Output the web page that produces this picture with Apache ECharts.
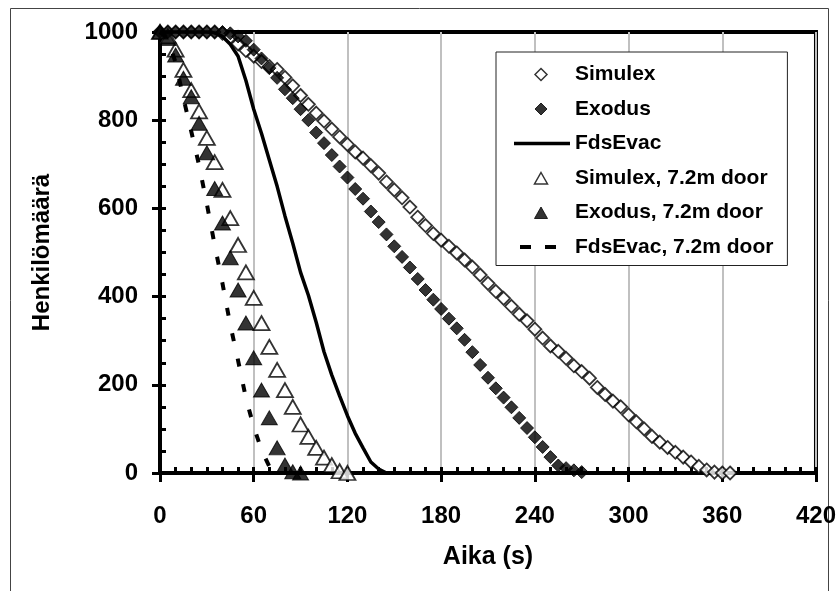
<!DOCTYPE html>
<html>
<head>
<meta charset="utf-8">
<script src="https://cdn.jsdelivr.net/npm/echarts@6/dist/echarts.min.js"></script>
<style>
html,body{margin:0;padding:0;background:#fff;}
#chart{width:839px;height:591px;}
</style>
</head>
<body>
<div id="chart"></div>
<script>
// ---- data ----
const xTicks = [0, 60, 120, 180, 240, 300, 360, 420];
const yTicks = [0, 200, 400, 600, 800, 1000];

const simulexT = [0,5,10,15,20,25,30,35,40,45,50,55,60,65,70,75,80,85,90,95,100,105,110,115,120,125,130,135,140,145,150,155,160,165,170,175,180,185,190,195,200,205,210,215,220,225,230,235,240,245,250,255,260,265,270,275,280,285,290,295,300,305,310,315,320,325,330,335,340,345,350,355,360,365];
const simulexN = [1000,1000,1000,1000,1000,1000,1000,1000,997,988,973,958,945,933,922,915,897,878,856,836,816,798,780,762,745,728,714,697,680,660,642,624,603,580,561,543,528,514,499,483,467,449,430,412,396,378,360,345,326,306,288,276,260,243,230,215,194,178,163,150,132,116,100,83,70,58,47,36,25,15,7,2,0,0];

const exodusT = [0,5,10,15,20,25,30,35,40,45,50,55,60,65,70,75,80,85,90,95,100,105,110,115,120,125,130,135,140,145,150,155,160,165,170,175,180,185,190,195,200,205,210,215,220,225,230,235,240,245,250,255,260,265,270];
const exodusN = [1000,1000,1000,1000,1000,1000,1000,1000,1000,997,990,980,960,940,918,896,870,850,825,800,772,748,721,695,670,644,622,593,569,541,514,490,466,440,415,393,372,350,328,302,274,245,216,192,171,149,125,102,81,59,36,17,11,6,2];

const fdsT = [0,5,10,15,20,25,30,35,40,45,50,55,60,65,70,75,80,85,90,95,100,105,110,115,120,125,130,135,140,145];
const fdsN = [1000,1000,1000,1000,1000,1000,1000,998,990,972,945,890,825,770,710,650,583,521,455,403,342,275,222,175,130,90,57,25,9,0];

const simulex72T = [0,5,10,15,20,25,30,35,40,45,50,55,60,65,70,75,80,85,90,95,100,105,110,115,120];
const simulex72N = [1000,990,960,914,868,820,760,705,642,578,517,455,397,340,286,234,188,150,110,82,57,35,18,4,0];

const exodus72T = [0,5,10,15,20,25,30,35,40,45,50,55,60,65,70,75,80,85,90];
const exodus72N = [1000,985,948,895,853,793,726,645,567,488,415,340,261,188,125,57,18,3,0];

const fds72T = [0,5,10,15,20,25,30,35,40,45,50,55,60,65,70,73];
const fds72N = [1000,985,930,850,775,698,610,517,430,336,255,170,105,52,15,0];

const seriesNames = ['Simulex','Exodus','FdsEvac','Simulex, 7.2m door','Exodus, 7.2m door','FdsEvac, 7.2m door'];

function pairs(t, n) { return t.map((v, i) => [v, n[i]]); }

const FONT = '"Liberation Sans", Arial, sans-serif';
const chart = echarts.init(document.getElementById('chart'), null, {renderer: 'canvas'});

const gridPos = {left: 160, right: 23, top: 32, bottom: 118};

// legend icons: small marker centred in the 56x14 legend icon box
const ICON_DIAMOND = 'path://M0,0M56,14M27,1L33,7L27,13L21,7Z';
const ICON_TRIANGLE = 'path://M0,0M56,14M27,1.5L33.5,13L20.5,13Z';

chart.setOption({
  animation: false,
  backgroundColor: '#fff',
  textStyle: {fontFamily: FONT},
  graphic: [{
    type: 'rect', silent: true, z: -10,
    shape: {x: 10.5, y: 8.5, width: 818, height: 600},
    style: {fill: 'none', stroke: '#444', lineWidth: 1}
  }],
  grid: [
    Object.assign({show: true, borderColor: '#000', borderWidth: 4, backgroundColor: 'transparent'}, gridPos),
    Object.assign({show: false}, gridPos)
  ],
  xAxis: [{
    type: 'value', gridIndex: 0, min: xTicks[0], max: xTicks[xTicks.length - 1], interval: 60,
    name: 'Aika (s)', nameLocation: 'middle', nameGap: 72,
    nameTextStyle: {fontFamily: FONT, fontWeight: 'bold', fontSize: 25, color: '#000'},
    axisLine: {show: true, lineStyle: {color: '#000', width: 4}},
    axisTick: {show: true, inside: false, length: 9, lineStyle: {color: '#000', width: 3}},
    axisLabel: {margin: 31, fontFamily: FONT, fontWeight: 'bold', fontSize: 24, color: '#000',
      formatter: v => String(v)},
    splitLine: {show: true, lineStyle: {color: '#c0c0c0', width: 2}}
  }, {
    type: 'value', gridIndex: 1, min: 0, max: 420, interval: 10,
    axisLine: {show: false},
    axisTick: {show: true, inside: true, length: 6, lineStyle: {color: '#000', width: 3}},
    axisLabel: {show: false},
    splitLine: {show: false}
  }],
  yAxis: [{
    type: 'value', gridIndex: 0, min: yTicks[0], max: yTicks[yTicks.length - 1], interval: 200,
    name: 'Henkilömäärä', nameLocation: 'middle', nameGap: 106,
    nameTextStyle: {fontFamily: FONT, fontWeight: 'bold', fontSize: 24, color: '#000'},
    axisLine: {show: true, lineStyle: {color: '#000', width: 4}},
    axisTick: {show: true, inside: false, length: 8, lineStyle: {color: '#000', width: 3}},
    axisLabel: {margin: 22, fontFamily: FONT, fontWeight: 'bold', fontSize: 24, color: '#000',
      formatter: v => String(v)},
    splitLine: {show: false}
  }, {
    type: 'value', gridIndex: 1, min: 0, max: 1000, interval: 50,
    axisLine: {show: false},
    axisTick: {show: true, inside: true, length: 6, lineStyle: {color: '#000', width: 3}},
    axisLabel: {show: false},
    splitLine: {show: false}
  }],
  legend: {
    orient: 'vertical', left: 496, top: 52,
    padding: [12, 14, 8, 16],
    itemWidth: 56, itemHeight: 14, itemGap: 13.5,
    borderColor: '#222', borderWidth: 1, backgroundColor: '#fff',
    textStyle: {fontFamily: FONT, fontWeight: 'bold', fontSize: 21, color: '#000'},
    data: [
      {name: seriesNames[0], icon: ICON_DIAMOND, itemStyle: {color: '#fff', borderColor: '#000', borderWidth: 1.5}},
      {name: seriesNames[1], icon: ICON_DIAMOND, itemStyle: {color: '#000', borderColor: '#000', borderWidth: 1}},
      {name: seriesNames[2], itemStyle: {opacity: 0}, lineStyle: {width: 3.5, color: '#000'}},
      {name: seriesNames[3], icon: ICON_TRIANGLE, itemStyle: {color: '#fff', borderColor: '#000', borderWidth: 1.5}},
      {name: seriesNames[4], icon: ICON_TRIANGLE, itemStyle: {color: '#000', borderColor: '#000', borderWidth: 1}},
      {name: seriesNames[5], itemStyle: {opacity: 0}, lineStyle: {width: 4, color: '#000', type: [11, 14], dashOffset: -6}}
    ]
  },
  series: [{
    name: seriesNames[0], type: 'scatter', clip: false,
    symbol: 'diamond', symbolSize: 13,
    itemStyle: {color: '#fff', borderColor: '#000', borderWidth: 1.8},
    data: pairs(simulexT, simulexN), z: 3
  }, {
    name: seriesNames[1], type: 'scatter', clip: false,
    symbol: 'diamond', symbolSize: 13,
    itemStyle: {color: '#000', borderColor: '#000', borderWidth: 1},
    data: pairs(exodusT, exodusN), z: 4
  }, {
    name: seriesNames[2], type: 'line', clip: false,
    symbol: 'none', showSymbol: false,
    lineStyle: {color: '#000', width: 3.5},
    itemStyle: {color: '#000'},
    data: pairs(fdsT, fdsN), z: 5
  }, {
    name: seriesNames[3], type: 'scatter', clip: false,
    symbol: 'triangle', symbolSize: [16, 14],
    itemStyle: {color: '#fff', borderColor: '#000', borderWidth: 1.8},
    data: pairs(simulex72T, simulex72N), z: 3
  }, {
    name: seriesNames[4], type: 'scatter', clip: false,
    symbol: 'triangle', symbolSize: [16, 14],
    itemStyle: {color: '#000', borderColor: '#000', borderWidth: 1},
    data: pairs(exodus72T, exodus72N), z: 4
  }, {
    name: seriesNames[5], type: 'line', clip: false,
    symbol: 'none', showSymbol: false,
    lineStyle: {color: '#000', width: 4, type: [8, 18]},
    itemStyle: {color: '#000'},
    data: pairs(fds72T, fds72N), z: 5
  }]
});
</script>
</body>
</html>
